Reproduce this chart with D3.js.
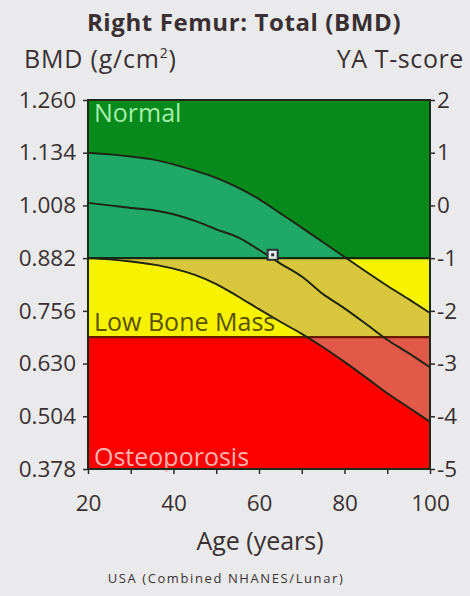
<!DOCTYPE html>
<html>
<head>
<meta charset="utf-8">
<script src="https://cdn.jsdelivr.net/npm/d3@7"></script>
<style>
  html, body { margin: 0; padding: 0; background: #eaeaec; }
  svg { display: block; }
  text { font-family: "Open Sans", "Noto Sans", sans-serif; fill: #3a3032; }
</style>
</head>
<body>
<svg id="chart" width="470" height="596"></svg>
<script>
// Reference curves for total femur BMD by age (g/cm²)
const ages = [20, 25, 30, 35, 40, 45, 50, 55, 60, 65, 70, 75, 80, 85, 90, 95, 100];
const upperCurve = [1.134, 1.130, 1.125, 1.118, 1.106, 1.091, 1.074, 1.051, 1.023, 0.989, 0.955, 0.920, 0.885, 0.850, 0.816, 0.784, 0.751];
const meanCurve  = [1.014, 1.008, 1.002, 0.997, 0.987, 0.971, 0.951, 0.932, 0.902, 0.869, 0.838, 0.796, 0.762, 0.725, 0.687, 0.655, 0.621];
const lowerCurve = [0.882, 0.879, 0.874, 0.867, 0.857, 0.842, 0.820, 0.791, 0.760, 0.730, 0.701, 0.669, 0.634, 0.597, 0.559, 0.525, 0.491];

// Patient measurement
const patientAge = [63.2];
const patientBmd = [0.890];

// Diagnostic zones (BMD limits)
const zoneNames  = ["Normal", "Low Bone Mass", "Osteoporosis"];
const zoneTop    = [1.260, 0.882, 0.693];
const zoneBottom = [0.882, 0.693, 0.378];
const zoneFill   = ["#078a1c", "#f6f200", "#fc0000"];
const bandFill   = ["#1fa866", "#d8c63c", "#e2594a"];
const zoneText   = ["#a6eea6", "#5a5000", "#ffb2b2"];

// Axis ticks
const bmdTicks = [1.260, 1.134, 1.008, 0.882, 0.756, 0.630, 0.504, 0.378];
const tTicks   = [2, 1, 0, -1, -2, -3, -4, -5];
const ageTicks = [20, 30, 40, 50, 60, 70, 80, 90, 100];
const ageLabels = [20, 40, 60, 80, 100];

const svg = d3.select("#chart");
const plotLeft = 88, plotRight = 430, plotTop = 100, plotBottom = 469;

const x = d3.scaleLinear().domain([20, 100]).range([plotLeft, plotRight]);
const y = d3.scaleLinear().domain([0.378, 1.260]).range([plotBottom, plotTop]);
const yT = d3.scaleLinear().domain([-5, 2]).range([plotBottom, plotTop]);

const defs = svg.append("defs");
zoneNames.forEach((n, i) => {
  defs.append("clipPath").attr("id", "zone" + i)
    .append("rect")
      .attr("x", x(20)).attr("width", x(100) - x(20))
      .attr("y", y(zoneTop[i])).attr("height", y(zoneBottom[i]) - y(zoneTop[i]));
});

const bandData = ages.map((a, i) => ({ age: a, hi: upperCurve[i], lo: lowerCurve[i] }));
const band = d3.area()
  .x(d => x(d.age)).y0(d => y(d.lo)).y1(d => y(d.hi))
  .curve(d3.curveMonotoneX);

// Zone backgrounds with the reference band shaded inside each zone
zoneNames.forEach((n, i) => {
  svg.append("rect")
    .attr("x", x(20)).attr("width", x(100) - x(20))
    .attr("y", y(zoneTop[i])).attr("height", y(zoneBottom[i]) - y(zoneTop[i]))
    .attr("fill", zoneFill[i]);
  svg.append("path").datum(bandData)
    .attr("clip-path", "url(#zone" + i + ")")
    .attr("d", band)
    .attr("fill", bandFill[i]);
});

// Zone boundaries
svg.append("line")
  .attr("x1", x(20)).attr("x2", x(100)).attr("y1", y(0.882)).attr("y2", y(0.882))
  .attr("stroke", "#0f2a10").attr("stroke-width", 2.2);
svg.append("line")
  .attr("x1", x(20)).attr("x2", x(100)).attr("y1", y(0.693)).attr("y2", y(0.693))
  .attr("stroke", "#6a1a00").attr("stroke-width", 2.2);

// Reference curves
const line = d3.line().x(d => x(d[0])).y(d => y(d[1])).curve(d3.curveMonotoneX);
[upperCurve, meanCurve, lowerCurve].forEach(c => {
  svg.append("path").datum(ages.map((a, i) => [a, c[i]]))
    .attr("d", line)
    .attr("fill", "none")
    .attr("stroke", "#1e2412")
    .attr("stroke-width", 1.9);
});

// Zone labels
const zoneFont = "25px";
svg.append("text").attr("x", x(20) + 6).attr("y", y(zoneTop[0]) + 22)
  .style("font-size", zoneFont).style("fill", zoneText[0]).text(zoneNames[0]);
svg.append("text").attr("x", x(20) + 6).attr("y", y(zoneBottom[1]) - 6)
  .style("font-size", zoneFont).style("fill", zoneText[1]).text(zoneNames[1]);
svg.append("text").attr("x", x(20) + 6).attr("y", y(zoneBottom[2]) - 3)
  .style("font-size", zoneFont).style("fill", zoneText[2]).text(zoneNames[2]);

// Plot frame
svg.append("rect")
  .attr("x", x(20)).attr("y", y(1.260))
  .attr("width", x(100) - x(20)).attr("height", y(0.378) - y(1.260))
  .attr("fill", "none").attr("stroke", "#1c2a1c").attr("stroke-width", 2);

// Patient marker
svg.selectAll(".pt").data(patientAge).join("rect")
  .attr("x", (d) => x(d) - 5).attr("y", (d, i) => y(patientBmd[i]) - 5)
  .attr("width", 10).attr("height", 10)
  .attr("fill", "#e4ecec").attr("stroke", "#2a3434").attr("stroke-width", 2);
svg.selectAll(".ptc").data(patientAge).join("rect")
  .attr("x", (d) => x(d) - 1.5).attr("y", (d, i) => y(patientBmd[i]) - 1.5)
  .attr("width", 3).attr("height", 3).attr("fill", "#2a3434");

// Axes
const fmtT = d => (d < 0 ? "-" + Math.abs(d) : String(d));
const gL = svg.append("g").attr("transform", `translate(${plotLeft},0)`)
  .call(d3.axisLeft(y).tickValues(bmdTicks).tickFormat(d3.format(".3f")).tickSize(5).tickPadding(7));
const gR = svg.append("g").attr("transform", `translate(${plotRight},0)`)
  .call(d3.axisRight(yT).tickValues(tTicks).tickFormat(fmtT).tickSize(5).tickPadding(2));
const gB = svg.append("g").attr("transform", `translate(0,${plotBottom})`)
  .call(d3.axisBottom(x).tickValues(ageTicks)
    .tickFormat(d => ageLabels.includes(d) ? String(d) : "").tickSize(5).tickPadding(21));
[gL, gR, gB].forEach(g => {
  g.select(".domain").remove();
  g.selectAll(".tick line").attr("stroke", "#2a2a2a").attr("stroke-width", 1.5);
  g.selectAll(".tick text").style("font-size", "22.5px").style("font-family", "\"Open Sans\", sans-serif").attr("fill", "#3a3032");
});

// Titles
svg.append("text").attr("x", 244).attr("y", 31).attr("text-anchor", "middle")
  .style("font-size", "24px").style("font-weight", "bold").style("letter-spacing", "0.6px")
  .text("Right Femur: Total (BMD)");
const yl = svg.append("text").attr("x", 24).attr("y", 68).style("font-size", "25px").style("letter-spacing", "0.8px");
yl.append("tspan").text("BMD (g/cm");
yl.append("tspan").attr("dy", -10).style("font-size", "14px").text("2");
yl.append("tspan").attr("dy", 10).text(")");
svg.append("text").attr("x", 464).attr("y", 68).attr("text-anchor", "end")
  .style("font-size", "25px").style("letter-spacing", "0.6px").text("YA T-score");
svg.append("text").attr("x", 260).attr("y", 550).attr("text-anchor", "middle")
  .style("font-size", "25px").text("Age (years)");
svg.append("text").attr("x", 226).attr("y", 583).attr("text-anchor", "middle")
  .style("font-size", "13px").style("letter-spacing", "1.6px")
  .text("USA (Combined NHANES/Lunar)");
</script>
</body>
</html>
